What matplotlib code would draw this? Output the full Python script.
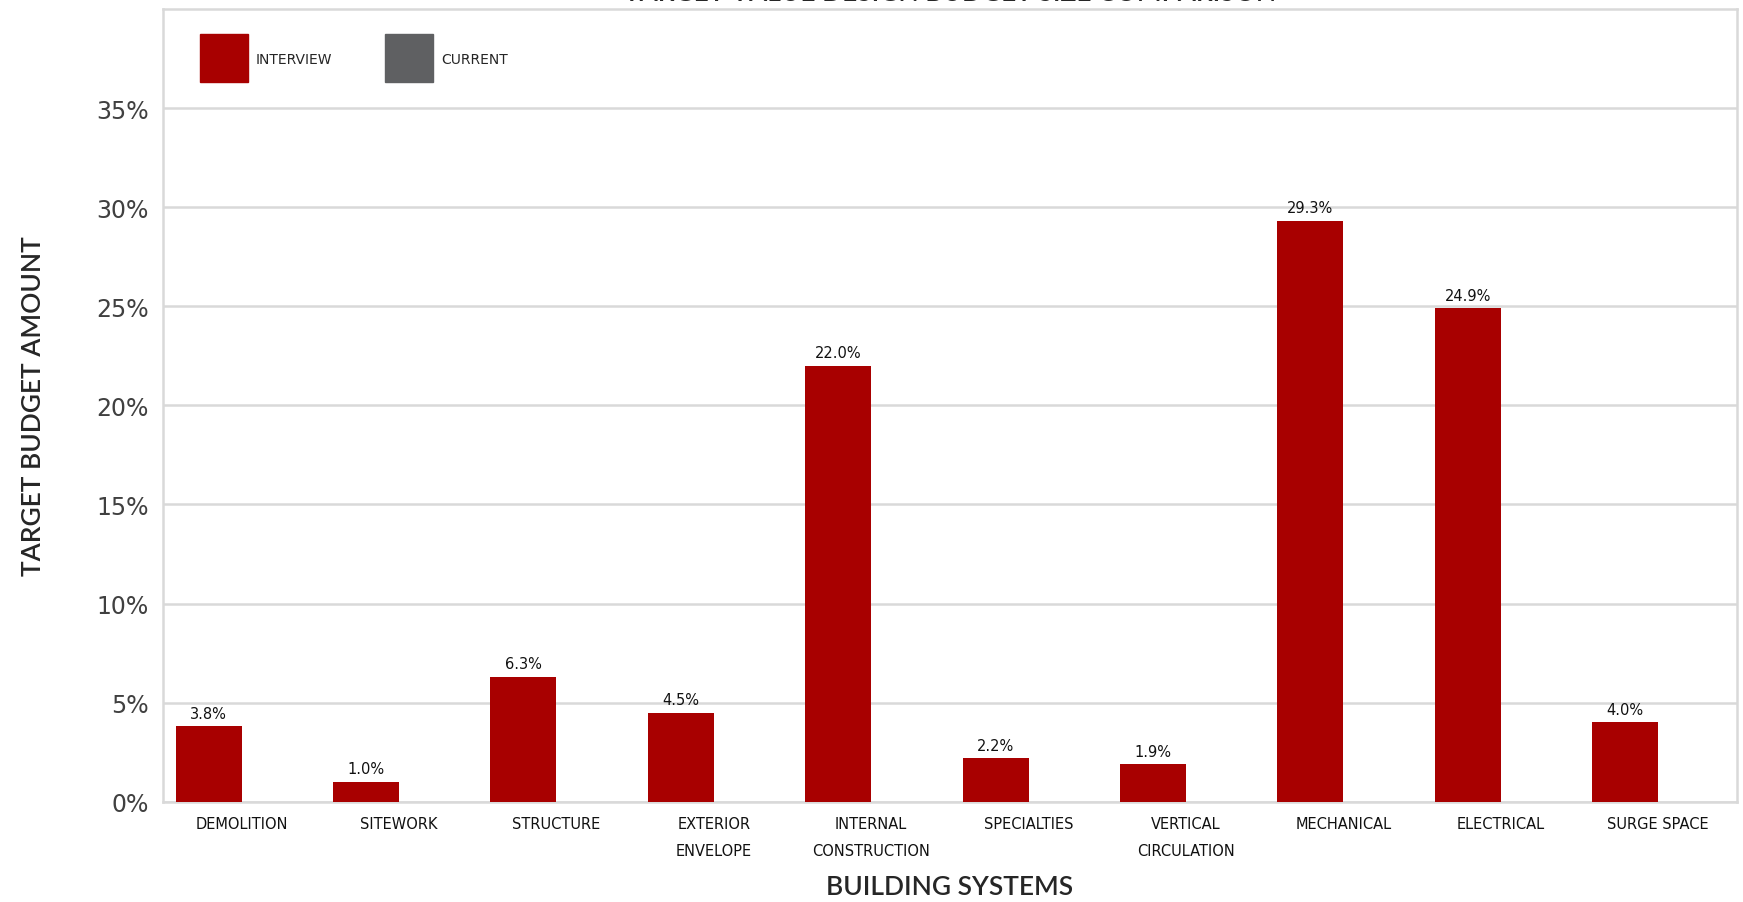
import numpy as np
import matplotlib
matplotlib.use('Agg')
import matplotlib.pyplot as plt
from matplotlib.patches import Rectangle
from matplotlib.ticker import FuncFormatter

# %% data

systems = ['DEMOLITION', 'SITEWORK', 'STRUCTURE', 'EXTERIOR\nENVELOPE', 'INTERNAL\nCONSTRUCTION',
           'SPECIALTIES', 'VERTICAL\nCIRCULATION', 'MECHANICAL', 'ELECTRICAL', 'SURGE SPACE']
interview = [3.8, 1.0, 6.3, 4.5, 22.0, 2.2, 1.9, 29.3, 24.9, 4.0]
current = [0, 0, 0, 0, 0, 0, 0, 0, 0, 0]
series_names = ['INTERVIEW', 'CURRENT']
y_ticks = [0, 5, 10, 15, 20, 25, 30, 35]

red = '#a80000'
grey = '#5f6062'
grid_col = '#d9d9d9'

# %% figure

fig = plt.figure(figsize=(17.43, 9.03), dpi=100)
ax = fig.add_axes([0.0935, 0.111, 0.903, 0.878])

x = np.arange(len(systems))
w = 0.42
ax.bar(x - w, interview, width=w, align='edge', color=red, zorder=3)
ax.bar(x, current, width=w, align='edge', color=grey, zorder=3)

for xi, v in zip(x, interview):
    ax.annotate('%.1f%%' % v, (xi - w / 2, v), xytext=(0, 4), textcoords='offset points',
                ha='center', va='bottom', fontsize=10.5, color='#111111', family='DejaVu Sans')

ax.set_xlim(-0.5, len(systems) - 0.5)
ax.set_ylim(0, 40)
ax.set_yticks(y_ticks)
ax.yaxis.set_major_formatter(FuncFormatter(lambda v, p: '%d%%' % v))
ax.tick_params(axis='y', length=0, pad=10, labelsize=17, labelcolor='#404040')
ax.set_xticks(x)
ax.set_xticklabels(systems, fontsize=10.5, color='#111111', linespacing=2.0)
ax.tick_params(axis='x', length=0, pad=10)

ax.grid(axis='y', color=grid_col, lw=1.8, zorder=0)
for s in ax.spines.values():
    s.set_color(grid_col)
    s.set_linewidth(1.8)

ax.set_ylabel('TARGET BUDGET AMOUNT', family='Lato', fontsize=19, fontweight='semibold',
              color='#262626', labelpad=36)
ax.set_xlabel('BUILDING SYSTEMS', family='Lato', fontsize=19, fontweight='semibold',
              color='#262626', labelpad=12)

# legend boxes drawn in figure coordinates
for i, (name, col) in enumerate(zip(series_names, [red, grey])):
    x0 = 200 + i * 185
    fig.patches.append(Rectangle((x0 / 1743, 1 - 83 / 903), 48 / 1743, 48 / 903,
                                 transform=fig.transFigure, color=col, zorder=5))
    fig.text((x0 + 56) / 1743, 1 - 60 / 903, name, fontsize=10, color='#262626',
             va='center', ha='left')

# chart title, runs off the top edge
fig.text(0.545, 1 - 6 / 903, 'TARGET VALUE DESIGN BUDGET SIZE COMPARISON', family='Lato',
         fontsize=19, fontweight='semibold', color='#262626', ha='center', va='bottom')

fig.savefig('out.png', dpi=100)
